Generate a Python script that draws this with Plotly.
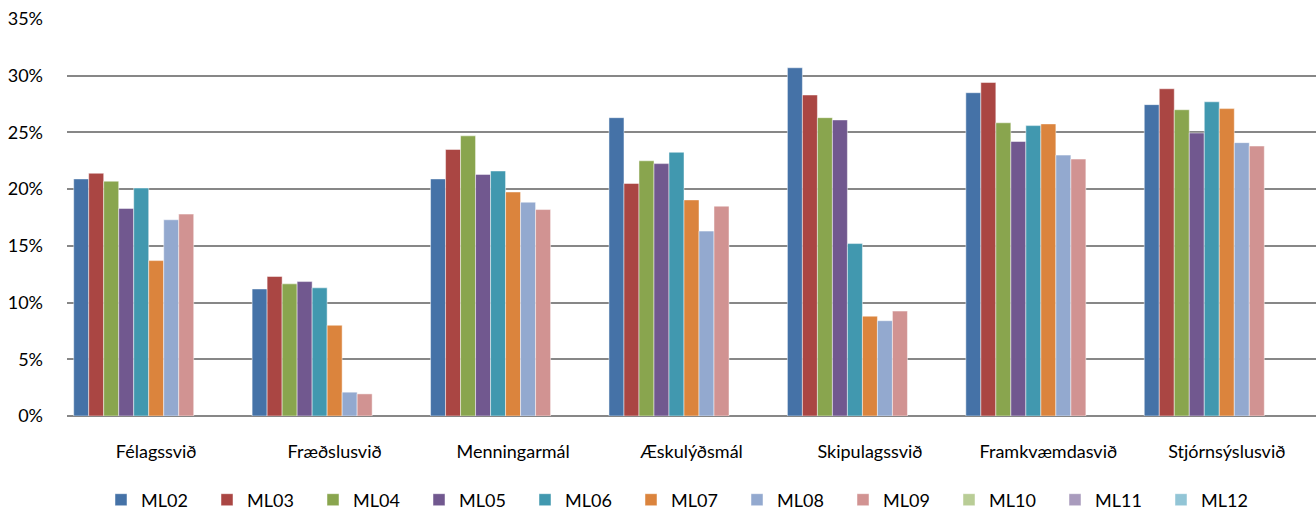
import plotly.graph_objects as go

categories = ["Félagssvið", "Fræðslusvið", "Menningarmál", "Æskulýðsmál",
              "Skipulagssvið", "Framkvæmdasvið", "Stjórnsýslusvið"]

series_names = ["ML02", "ML03", "ML04", "ML05", "ML06", "ML07", "ML08", "ML09", "ML10", "ML11", "ML12"]

ML02 = [20.9, 11.2, 20.9, 26.3, 30.7, 28.5, 27.45]
ML03 = [21.4, 12.3, 23.5, 20.5, 28.3, 29.4, 28.85]
ML04 = [20.7, 11.65, 24.7, 22.5, 26.3, 25.85, 27.0]
ML05 = [18.3, 11.85, 21.3, 22.25, 26.1, 24.2, 24.95]
ML06 = [20.1, 11.3, 21.6, 23.25, 15.2, 25.6, 27.7]
ML07 = [13.7, 8.0, 19.75, 19.05, 8.8, 25.75, 27.1]
ML08 = [17.3, 2.1, 18.85, 16.3, 8.4, 23.0, 24.1]
ML09 = [17.8, 1.95, 18.2, 18.5, 9.25, 22.65, 23.8]
ML10 = [None] * 7
ML11 = [None] * 7
ML12 = [None] * 7

series_values = [ML02, ML03, ML04, ML05, ML06, ML07, ML08, ML09, ML10, ML11, ML12]

colors = ["#4572A7", "#AA4643", "#89A54E", "#71588F", "#4198AF", "#DB843D",
          "#93A9CF", "#D19392", "#B9CD96", "#A99BBD", "#92C5D6"]

y_ticks = [0, 5, 10, 15, 20, 25, 30, 35]
y_tick_labels = ["0%", "5%", "10%", "15%", "20%", "25%", "30%", "35%"]

fig = go.Figure()
for name, vals, col in zip(series_names, series_values, colors):
    fig.add_trace(go.Bar(
        x=categories, y=[v / 100 if v is not None else None for v in vals],
        name=name, marker=dict(color=col, line=dict(color="rgba(255,255,255,0.6)", width=0.8)),
    ))

fig.update_layout(
    width=1316, height=513,
    margin=dict(l=67, r=0, t=19, b=97),
    paper_bgcolor="white", plot_bgcolor="white",
    barmode="group", bargap=0.075, bargroupgap=0,
    font=dict(family="Lato, Calibri, sans-serif", size=18, color="#000000"),
    legend=dict(orientation="h", xref="container", x=684 / 1316, xanchor="center",
                yref="container", y=1 - 500 / 513, yanchor="middle",
                font=dict(size=18), itemwidth=30, traceorder="normal",
                entrywidth=61, entrywidthmode="pixels"),
    xaxis=dict(showgrid=False, showline=False, ticks="", ticklabelstandoff=23),
    yaxis=dict(range=[0, 0.35], tickvals=[t / 100 for t in y_ticks], ticktext=y_tick_labels,
               showgrid=True, gridcolor="#878787", gridwidth=1.7,
               zeroline=True, zerolinecolor="#878787", zerolinewidth=2,
               showline=False, ticks="", ticklabelstandoff=23),
)

fig.write_html("out.html", config={"displayModeBar": False},
               post_script="document.body.style.margin='0';document.body.style.overflow='hidden';")
